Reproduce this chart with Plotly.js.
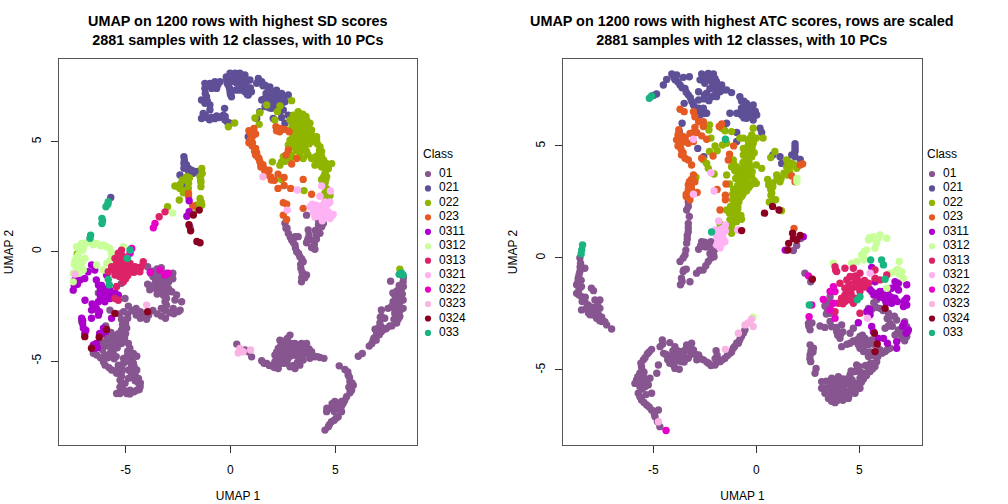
<!DOCTYPE html>
<html>
<head>
<meta charset="utf-8">
<script src="https://cdn.plot.ly/plotly-3.0.1.min.js"></script>
<style>html,body{margin:0;padding:0;background:#fff}</style>
</head>
<body>
<div id="chart" style="width:1008px;height:504px"></div>
<script>
const classes=["01","021","022","023","0311","0312","0313","0321","0322","0323","0324","033"];
const colors=["#87558F","#5F4F97","#8FB500","#E45A22","#AB00CC","#C9FF99","#DD2367","#FFB3F5","#E600C8","#FAB3E3","#8B0021","#1AB482"];
const titleLeft="UMAP on 1200 rows with highest SD scores<br>2881 samples with 12 classes, with 10 PCs";
const titleRight="UMAP on 1200 rows with highest ATC scores, rows are scaled<br>2881 samples with 12 classes, with 10 PCs";

const sd_01=[[-3.95,-0.7],[-3.7,-0.9],[-3.5,-0.8],[-3.3,-0.75],[-3.1,-1.0],[-3.4,-1.2],[-3.15,-1.3],[-3.7,-1.15],[-3.95,-1.5],[-3.85,-1.75],[-3.6,-1.45],[-3.4,-1.6],[-3.2,-1.7],[-3.5,-1.95],[-3.2,-2.0],[-2.95,-1.7],[-2.95,-1.4],[-2.75,-1.25],[-2.75,-1.0],[-2.8,-1.84],[-2.57,-1.99],[-2.65,-2.22],[-2.33,-2.3],[-2.4,-2.68],[-2.73,-2.6],[-3.05,-2.45],[-3.12,-2.3],
[-3.8,-1.0],[-3.6,-1.2],[-3.3,-1.0],[-3.1,-1.5],[-3.3,-1.45],[-3.55,-1.7],[-3.7,-1.6],[-3.05,-1.9],[-2.9,-1.15],[-3.5,-1.05],[-3.25,-1.85],[-3.05,-2.15],
[-5.3,-2.85],[-5.1,-2.75],[-4.9,-2.85],[-4.7,-2.7],[-4.5,-2.9],[-4.3,-2.75],[-4.1,-2.85],[-3.9,-2.9],[-3.7,-2.7],[-3.5,-2.85],[-3.3,-2.95],[-3.1,-2.7],[-2.9,-2.8],[-2.7,-2.85],[-2.5,-2.75],[-4.9,-3.05],[-4.5,-2.6],[-4.3,-3.05],[-4.0,-3.1],[-5.2,-3.1],[-3.3,-2.6],[-3.1,-3.05],[-4.87,-2.5],[-5.03,-2.15],[-5.75,-2.68],
[-5.15,-3.35],[-4.95,-3.5],[-5.2,-3.6],[-5.0,-3.75],[-5.7,-3.7],[-5.5,-3.85],[-5.9,-4.0],[-6.3,-4.3],[-6.1,-4.5],[-5.9,-4.3],[-5.7,-4.2],[-5.5,-4.1],[-5.3,-4.0],[-5.2,-3.9],[-5.8,-4.7],[-5.6,-4.6],[-5.4,-4.4],[-5.55,-4.9],[-6.06,-5.03],[-6.38,-4.73],[-6.54,-4.65],[-5.98,-5.19],[-5.45,-4.8],[-4.87,-4.2],[-4.8,-4.42],[-4.63,-4.65],[-4.47,-4.78],[-4.87,-4.88],[-5.1,-4.88],[-4.71,-4.96],[-4.71,-5.26],[-4.47,-5.41],[-4.87,-5.41],[-5.35,-5.19],[-5.67,-5.41],[-5.43,-5.56],[-5.19,-5.49],[-5.27,-5.87],[-5.19,-6.17],[-5.27,-6.48],[-4.95,-6.48],[-4.79,-6.33],[-4.47,-6.33],[-4.31,-6.17],[-4.39,-5.79],[-4.55,-5.64],[-4.87,-5.79],[-5.03,-6.02],[-5.43,-6.48],[-4.63,-5.1],[-4.55,-5.9],[-4.39,-6.0],[-5.1,-5.1],[-5.27,-6.2],
[-4.75,-5.1],[-4.6,-5.25],[-4.75,-5.5],[-4.6,-5.55],[-5.2,-5.3],[-5.35,-5.35],[-5.2,-5.7],[-5.2,-6.0],[-5.2,-6.35],[-5.05,-6.35],[-4.8,-6.5],[-4.6,-6.4],[-4.35,-6.3],[-4.3,-6.0],[-4.45,-5.85],[-4.65,-5.75],[-5.5,-5.45],[-5.8,-5.3],[-5.85,-4.85],[-6.2,-4.85],[-6.0,-4.75],[-5.7,-4.45],[-5.45,-4.2],[-5.55,-4.35],[-5.2,-4.2],[-4.9,-4.55],[-4.75,-4.75],[-4.9,-4.7],[-4.95,-5.0],[-5.05,-3.95],[-5.0,-3.3],[-5.35,-3.75],[-5.6,-3.95],[-5.8,-3.85],[-6.05,-4.2],[-6.2,-4.15],
[-6.38,-2.68],[-7.1,-3.2],[-6.3,-1.9],[-5.2,-1.46],[-6.5,-2.45],[-5.95,-3.4],
[2.6,1.28],[2.76,0.82],[2.92,0.52],[3.08,0.29],[3.16,-0.02],[3.31,-0.25],[3.47,-0.47],[3.36,-0.78],[3.47,-1.08],[3.63,-1.08],[3.39,-1.39],[3.08,0.67],[3.23,0.67],[2.7,1.05],[3.71,0.97],[3.71,0.59],[3.63,0.39],[3.95,0.51],[4.11,0.74],[4.27,0.82],[4.03,0.09],[3.87,0.18],[4.35,1.12],[3.63,1.65],[4.19,1.43],[4.43,1.27],[4.83,1.65],
[2.65,1.05],[2.85,0.65],[3.0,0.4],[3.1,0.15],[3.25,-0.1],[3.4,-0.35],[3.35,-0.6],[3.42,-0.95],[3.4,-1.2],[3.55,-1.2],[3.75,0.75],[3.68,0.5],[4.0,0.3],[4.1,0.55],[4.05,0.95],[4.2,1.0],[4.2,1.2],[4.3,1.45],[4.15,0.8],[3.95,0.15],
[0.3,-4.23],[0.85,-4.58],[1.01,-4.81],[0.69,-4.5],[1.49,-4.99],[1.73,-5.11],[1.97,-5.23],[2.28,-5.34],[2.12,-5.03],[2.12,-4.73],[2.28,-4.43],[2.36,-4.05],[2.84,-3.82],[2.71,-3.97],[2.52,-4.27],[2.6,-4.58],[2.52,-4.88],[2.76,-4.88],[2.84,-5.26],[3.08,-5.34],[3.31,-5.19],[3.47,-4.96],[3.23,-4.81],[3.0,-4.66],[3.08,-4.2],[3.31,-4.43],[3.63,-4.2],[3.63,-4.58],[3.87,-4.58],[4.03,-4.81],[4.27,-4.84],[4.46,-4.88],[3.79,-4.88],[3.39,-4.2],[2.76,-4.35],[2.36,-5.11],[2.9,-4.5],[2.4,-4.7],[3.45,-4.7],[2.05,-5.2],
[2.5,-4.1],[2.3,-4.6],[2.4,-4.3],[2.7,-4.2],[2.9,-4.2],[2.9,-4.35],[3.15,-4.35],[3.15,-4.55],[2.95,-4.75],[2.75,-4.65],[2.6,-4.8],[2.4,-5.0],[2.2,-4.9],[2.55,-5.1],[2.7,-5.1],[3.0,-5.2],[3.2,-5.05],[3.4,-4.8],[3.5,-4.5],[3.5,-4.3],[3.75,-4.45],[3.75,-4.7],[1.6,-5.1],[1.85,-5.2],[2.1,-5.3],[2.2,-5.15],[3.9,-4.7],[4.15,-4.8],[2.2,-4.6],[2.45,-4.45],[3.25,-4.65],
[5.19,-5.22],[5.46,-5.39],[5.62,-5.65],[5.7,-5.95],[5.86,-6.1],[5.78,-6.33],[5.54,-6.63],[5.38,-6.93],[5.14,-7.16],[4.98,-6.85],[4.82,-7.16],[4.59,-7.31],[5.14,-7.54],[4.82,-7.77],[4.67,-8.0],[4.51,-8.15],[5.3,-7.31],[5.3,-6.85],
[5.6,-5.5],[5.68,-5.75],[5.8,-6.0],[5.65,-6.2],[5.7,-6.45],[5.45,-6.8],[5.3,-7.05],[5.15,-6.95],[5.0,-7.05],[4.95,-7.3],[5.25,-7.15],[5.05,-7.6],[4.95,-7.7],[4.72,-7.9],[4.85,-6.95],[4.6,-7.15],
[6.1,-4.78],[6.29,-4.66],[6.62,-4.32],[6.81,-4.05],[6.97,-3.82],[7.2,-3.67],[7.44,-3.52],[7.93,-3.27],[7.13,-3.27],[7.2,-2.97],[7.2,-2.67],[7.36,-3.05],[7.52,-2.6],[7.76,-2.3],[7.84,-2.0],[8.08,-2.0],[8.24,-2.22],[8.24,-2.6],[8.08,-2.97],[8.0,-2.52],[7.84,-2.83],[8.24,-1.39],[8.16,-1.7],[7.64,-1.36],[7.7,-3.4],[6.9,-3.55],[7.95,-2.2],[-1.93,1.1],
[7.7,-2.5],[7.9,-2.3],[8.1,-2.3],[8.1,-2.7],[7.95,-2.8],[7.8,-3.1],[8.0,-3.1],[7.6,-3.4],[7.35,-3.55],[7.1,-3.8],[6.85,-3.95],[6.95,-4.05],[6.75,-4.2],[7.2,-3.45],[7.05,-3.5],[6.95,-3.6],[7.15,-3.0],[7.8,-2.6],[7.75,-1.9],[8.05,-1.55],[8.2,-1.95],[7.95,-1.8],[8.25,-1.2],[8.25,-1.6]];
const sd_021=[[-1.22,7.66],[-1.22,7.43],[-0.98,7.66],[-0.74,7.73],[-0.5,7.73],[-0.66,7.43],[-0.9,7.43],[-1.14,7.05],[-1.38,6.9],[-1.22,6.75],[-0.98,6.67],[-0.98,6.45],[-0.28,6.52],[-0.18,7.81],[-0.02,8.12],[0.22,8.12],[0.45,8.12],[0.69,8.04],[-0.1,7.58],[-0.02,7.28],[0.05,7.05],[0.3,7.66],[0.53,7.58],[0.69,7.28],[0.85,7.13],[1.0,7.28],[0.77,7.81],[0.93,7.81],[1.33,7.88],[1.49,7.73],[1.25,7.66],[1.65,7.58],[1.88,7.5],[2.2,7.35],[2.44,7.2],[2.76,7.13],[1.88,7.13],[2.12,6.97],[2.36,6.97],[1.49,6.9],[1.73,6.82],[1.96,6.75],[2.28,6.75],[2.6,6.82],[1.65,6.6],[1.96,6.52],[2.36,6.37],[2.52,6.45],[2.76,6.21],[1.4,6.37],[1.25,6.06],[2.04,6.06],[2.44,6.1],[2.6,5.84],[0.85,5.23],[3.51,6.14],[0.15,7.85],[0.5,7.9],[0.25,7.35],[0.45,7.35],[1.7,7.2],[2.0,7.3],[2.25,7.1],
[-1.1,7.55],[-0.85,7.6],[-0.6,7.6],[-1.2,7.2],[-1.1,6.85],[-0.2,7.95],[0.0,7.95],[0.1,7.75],[0.3,7.95],[-0.05,7.45],[-0.15,7.65],[0.0,7.15],[0.45,7.75],[0.6,7.8],[0.75,7.6],[0.6,7.45],[0.8,7.15],[0.95,7.45],[1.4,7.75],[1.55,7.55],[1.8,7.35],[2.0,7.15],[2.35,7.15],[2.5,6.95],[2.15,6.8],[1.85,6.95],[1.6,6.95],[2.45,6.75],[2.05,6.65],[2.3,6.55],[1.85,6.55],[2.55,7.05],
[-1.3,6.29],[-1.38,6.06],[-1.14,6.1],[-0.9,6.1],[-0.66,6.17],[-0.42,6.14],[-0.26,5.99],[-0.02,5.84],[-0.34,6.21],[-1.3,6.15],[-1.2,6.2],[-1.0,6.0],[-0.75,6.05],[-0.55,6.1],[-0.25,6.15],[-0.15,5.9],
[-2.22,4.31],[-2.22,4.01],[-2.22,3.79],[-2.01,3.79],[-1.77,3.56],[-1.61,3.64],[-2.41,3.48],[-2.25,3.07],[-2.1,3.95],[-5.71,2.46],[-2.2,4.15],[-2.15,3.9],[-2.0,3.65],[-1.85,3.7]];
const sd_022=[[2.92,6.87],[2.36,6.63],[2.24,6.37],[2.12,5.99],[3.23,6.37],[3.39,6.14],[3.0,6.21],[2.84,5.99],[3.08,5.91],[3.31,5.91],[3.63,5.99],[3.79,5.84],[3.87,5.53],[3.63,5.6],[3.31,5.6],[3.08,5.6],[2.84,5.53],[3.0,5.3],[3.23,5.3],[3.55,5.3],[3.87,5.3],[4.11,5.23],[4.11,5.07],[3.87,5.0],[3.63,5.0],[3.31,5.0],[2.84,5.07],[2.76,4.85],[3.23,4.74],[3.55,4.77],[4.27,4.77],[4.35,4.55],[3.31,4.47],[3.63,4.55],[3.47,4.23],[2.92,4.39],[2.84,4.23],[2.52,4.31],[2.44,4.08],[2.36,3.93],[3.87,4.23],[4.11,4.16],[4.35,4.31],[4.59,4.0],[4.83,4.0],[4.03,3.93],[4.35,3.85],[4.67,3.77],[4.51,3.55],[4.59,3.4],[4.35,3.28],[4.51,3.1],[4.67,2.72],[4.51,2.49],[2.44,3.28],[2.0,4.08],[3.51,2.77],[1.17,6.08],[1.37,5.79],[1.4,6.32],[1.73,6.67],[0.2,5.85],[-0.1,5.68],[4.35,1.75],
[2.95,6.0],[3.15,6.1],[3.45,5.8],[3.5,5.5],[3.15,5.75],[2.95,5.75],[2.95,5.45],[3.2,5.45],[3.4,5.2],[3.7,5.45],[4.0,5.15],[3.75,5.15],[3.45,5.0],[3.15,5.15],[2.95,5.15],[2.9,4.95],[3.1,4.95],[3.4,4.75],[3.45,4.6],[3.75,4.9],[4.15,4.9],[4.25,4.6],[4.2,4.4],[3.15,4.6],[3.0,4.75],[3.7,4.4],[2.65,4.25],[2.75,4.45],[2.6,4.1],[4.05,4.3],[4.25,4.15],[4.45,4.15],[4.5,3.85],[4.7,3.95],[4.2,4.0],[4.55,3.7],[4.45,3.4],[4.55,3.25],[4.4,3.2],[4.6,2.85],[4.75,2.55],[4.5,2.65],[4.55,2.3],[3.6,6.15],[3.45,6.25],
[-1.37,3.78],[-1.45,3.4],[-1.41,2.95],[-2.08,3.4],[-2.3,3.25],[-2.65,2.98],[-2.41,2.87],[-2.01,2.87],[-2.25,2.67],[-2.44,2.34],[-1.45,2.41],[-1.61,2.11],[-1.37,2.11],[-3.0,2.03],[-1.77,1.7],[-1.41,3.15],[-2.15,3.25],[-2.0,3.1],[-2.4,3.05],[-2.5,2.95],[-2.15,2.75],[-1.95,3.35],[-1.42,3.25],[-1.35,3.55],[-1.4,2.25],[-1.6,2.0],[-7.31,-0.12],[8.08,-0.81]];
const sd_023=[[0.88,5.5],[1.12,5.6],[1.04,5.23],[1.2,5.35],[0.88,4.95],[1.04,4.8],[1.2,4.69],[1.2,4.39],[1.36,4.23],[1.44,4.0],[1.6,3.77],[1.84,3.7],[1.92,3.39],[2.1,3.24],[2.27,3.52],[2.56,3.37],[3.47,3.28],[2.27,2.87],[2.56,3.0],[2.87,2.87],[3.87,2.6],[2.52,2.22],[2.68,2.15],[3.47,1.96],[2.52,1.65],[2.68,1.45],[2.17,5.68],[2.36,5.6],[2.6,5.56],[2.8,5.45],[2.76,4.62],[2.65,4.39],[3.16,4.23],[2.92,3.98],[-2.0,2.64],[-2.0,2.49],[-1.8,2.07],[0.95,5.4],[0.95,5.1],[1.05,4.95],[1.15,4.55],[1.25,4.5],[1.3,4.3],[1.4,4.1],[1.45,3.85],[1.55,3.95],[1.65,3.65],[1.75,3.5],[1.95,3.25],[2.35,5.45],[2.2,5.5]];
const sd_0311=[[-6.63,-0.62],[-6.47,-0.85],[-6.79,-0.93],[-7.42,-1.31],[-7.18,-1.31],[-7.5,-1.77],[-6.95,-1.24],[-6.3,-1.53],[-6.06,-1.69],[-5.75,-1.77],[-6.22,-1.92],[-5.99,-2.07],[-5.75,-2.15],[-5.35,-2.0],[-5.99,-2.3],[-6.94,-2.23],[-6.47,-2.45],[-6.63,-2.68],[-6.3,-2.91],[-6.63,-3.05],[-7.1,-3.05],[-7.02,-3.5],[-6.95,-3.74],[-6.24,-3.74],[-6.06,-3.5],[-5.67,-3.05],[-6.54,-4.27],[-6.47,-4.42],[-5.91,-1.08],[-5.43,-0.93],[-5.9,-1.85],[-6.15,-2.2],[-1.97,2.31],[-1.97,1.81],[-2.08,1.6],[-6.2,-1.7],[-6.0,-1.85],[-6.05,-2.05],[-5.85,-2.0],[-5.6,-1.95],[-5.5,-1.9],[-6.2,-2.1],[-6.3,-2.3],[-6.6,-2.4],[-6.4,-2.6],[-6.25,-2.75],[-7.05,-3.3],[-7.05,-3.15],[-6.9,-3.6],[-6.1,-3.75],[-5.95,-3.65],[-6.4,-4.2],[-6.35,-4.4],[-7.3,-1.5],[-7.45,-1.55],[-6.4,-1.3],[-6.15,-1.55]];
const sd_0312=[[-7.34,0.21],[-7.1,0.36],[-6.79,0.44],[-6.38,0.36],[-6.06,0.29],[-5.75,0.13],[-5.67,-0.09],[-7.18,0.06],[-7.26,-0.17],[-7.42,-0.4],[-7.1,-0.55],[-7.34,-0.78],[-7.02,-0.85],[-7.5,-1.0],[-6.38,-0.62],[-6.06,-0.85],[-5.75,-0.4],[-5.11,0.21],[-6.94,-0.32],[-7.5,-1.39],[-6.6,0.42],[-7.0,0.2],[-2.76,1.75],[-6.95,0.35],[-6.55,0.3],[-6.2,0.25],[-5.9,0.2],[-7.2,0.25],[-7.35,-0.3],[-7.2,-0.7],[-7.45,-0.6],[-7.25,-1.0],[-7.2,-0.45],[-7.05,0.05],[-5.65,-0.3],[-5.9,-0.55]];
const sd_0313=[[-5.35,-0.09],[-5.43,-0.55],[-5.67,-0.7],[-5.83,-0.93],[-5.27,-0.47],[-5.03,-0.4],[-4.79,-0.55],[-4.95,-0.78],[-5.27,-0.93],[-5.51,-1.08],[-5.11,-1.16],[-5.11,-1.39],[-4.55,-0.7],[-4.32,-0.93],[-4.16,-0.47],[-5.51,-0.32],[-4.71,-0.93],[-5.51,-2.15],[-5.35,-2.23],[-5.43,-1.6],[-5.2,0.05],[-5.2,-0.2],[-3.4,1.58],[-3.12,1.8],[-5.1,-0.25],[-4.95,-0.55],[-5.15,-0.7],[-5.35,-0.7],[-5.1,-0.9],[-4.85,-0.95],[-5.3,-1.15],[-4.6,-0.95],[-4.75,-0.75],[-4.4,-0.75],[-4.25,-0.7],[-5.55,-0.85],[-4.9,-1.1],[-5.0,-1.25]];
const sd_0321=[[3.19,2.8],[4.35,2.98],[4.77,2.75],[4.27,2.51],[4.67,2.18],[4.5,2.03],[4.19,2.03],[3.8,2.03],[4.03,1.88],[4.03,1.57],[4.38,1.8],[4.67,1.8],[4.9,1.68],[4.75,1.5],[4.38,1.39],[2.71,1.88],[4.2,1.75],[3.95,1.8],[4.1,2.1],[4.4,2.1],[4.55,1.95],[4.25,1.6],[4.6,1.6],[4.15,1.9],[4.5,2.25],[4.75,2.25],[3.9,2.15]];
const sd_0322=[[-4.71,0.13],[-4.79,-0.09],[-3.36,-0.85],[-3.12,-1.08],[-2.97,-1.0],[-3.83,-0.95],[-3.6,1.27],[-3.68,1.07]];
const sd_0323=[[0.45,-4.43],[0.61,-4.58],[0.37,-4.63],[0.96,-4.5],[-4.0,-2.45],[-7.42,-1.04],[1.55,3.4]];
const sd_0324=[[-6.26,-3.92],[-5.91,-3.56],[-6.95,-3.89],[-6.63,-4.42],[-3.95,-2.75],[-5.51,-2.83],[-1.49,1.88],[-1.77,1.66],[-1.98,1.21],[-1.9,0.94],[-1.6,0.45],[-1.45,0.39]];
const sd_033=[[-5.83,2.26],[-5.94,2.03],[-6.13,1.5],[-6.13,1.27],[-6.67,0.74],[-6.7,0.6],[-4.79,0.06],[-4.92,-0.32],[-5.83,-1.28],[-5.78,-1.53],[8.16,-0.98],[8.24,-1.08],[8.05,-1.05],[-5.85,2.15],[-6.1,1.4]];

const atc_01=[[-8.56,0.0],[-8.53,-0.24],[-8.32,-0.46],[-8.56,-0.61],[-8.64,-0.91],[-8.72,-1.2],[-8.48,-1.28],[-8.72,-1.58],[-8.48,-1.73],[-8.32,-1.95],[-8.48,-2.32],[-8.16,-2.1],[-8.0,-1.35],[-7.9,-1.46],[-7.83,-1.88],[-7.59,-1.88],[-7.59,-2.25],[-7.83,-2.32],[-8.07,-2.54],[-7.75,-2.69],[-7.5,-2.84],[-7.26,-2.99],[-7.02,-3.17],[-8.2,-2.3],
[-8.55,-0.4],[-8.6,-0.75],[-8.65,-1.05],[-8.6,-1.4],[-8.6,-1.65],[-8.45,-1.95],[-8.25,-2.25],[-8.0,-2.2],[-8.3,-1.75],[-7.7,-2.1],[-7.9,-2.55],[-7.65,-2.55],[-7.5,-2.65],[-7.35,-2.85],[-7.6,-2.8],[-8.5,-1.0],[-8.15,-2.45],[-7.75,-2.4],
[-3.3,2.51],[-3.38,2.14],[-3.3,1.54],[-3.3,1.17],[-3.38,0.66],[-3.46,0.13],[-3.7,-0.16],[-3.52,-0.54],[-3.63,-0.91],[-3.68,-1.2],[-3.22,-1.06],[-2.9,-0.68],[-2.58,-0.54],[-2.33,-0.16],[-2.08,0.21],[-2.65,0.73],[-2.5,0.5],[-2.8,0.39],[-2.2,0.73],[-2.41,0.5],[-3.25,1.85],[-3.3,2.3],[-3.3,1.35],[-3.35,1.0],[-3.42,0.35],[-3.55,0.0],[-3.35,0.85],[-3.55,-0.6],[-3.6,-1.05],[-3.4,-0.5],[-2.75,-0.55],[-2.45,-0.35],[-2.2,0.0],[-2.0,0.4],[-2.7,0.55],[-2.5,0.7],[-2.3,0.55],[-2.25,0.2],[-2.05,0.05],[-2.15,0.35],
[-4.56,-3.66],[-4.67,-3.96],[-4.5,-4.26],[-4.2,-3.78],[-5.08,-4.08],[-5.29,-4.29],[-5.48,-4.55],[-5.57,-4.85],[-5.65,-5.15],[-5.81,-5.45],[-5.89,-5.6],[-5.48,-5.3],[-5.16,-5.37],[-5.24,-5.67],[-5.65,-5.75],[-5.73,-6.04],[-5.08,-6.04],[-5.57,-6.34],[-5.32,-6.56],[-5.08,-6.79],[-4.75,-6.79],[-4.92,-7.08],[-4.68,-7.53],[-4.83,-5.15],[-4.75,-4.78],[-5.5,-5.7],[-5.35,-6.1],
[-5.4,-4.45],[-5.2,-4.2],[-5.55,-5.0],[-5.6,-5.3],[-5.75,-5.3],[-5.7,-5.55],[-5.5,-5.5],[-5.35,-5.45],[-5.55,-5.85],[-5.65,-6.2],[-5.45,-6.45],[-5.2,-6.65],[-4.95,-6.95],[-4.8,-7.3],[-5.4,-5.75],[-5.45,-5.1],[-5.6,-4.7],
[-4.11,-4.63],[-4.35,-4.33],[-3.95,-4.93],[-3.74,-4.97],[-3.95,-3.96],[-3.87,-4.33],[-3.63,-4.18],[-3.38,-3.88],[-3.14,-3.81],[-3.05,-4.11],[-3.3,-4.48],[-3.63,-4.63],[-2.89,-4.55],[-2.8,-4.33],[-2.56,-4.55],[-2.32,-4.7],[-2.0,-4.78],[-1.76,-4.63],[-1.52,-4.48],[-1.95,-4.14],[-1.28,-4.26],[-1.12,-4.03],[-0.87,-3.81],[-0.72,-3.51],[-0.55,-3.21],
[-4.55,-3.85],[-4.4,-4.3],[-4.3,-4.55],[-4.2,-4.7],[-4.05,-4.35],[-4.05,-4.15],[-3.85,-4.6],[-3.8,-4.15],[-3.7,-4.35],[-3.5,-4.35],[-3.45,-4.1],[-3.3,-4.1],[-3.15,-4.3],[-3.2,-3.95],[-2.95,-4.3],[-2.7,-4.5],[-2.4,-4.65],[-2.2,-4.8],[-1.9,-4.65],[-1.65,-4.55],[-1.4,-4.35],[-1.2,-4.2],[-1.05,-3.95],[-0.95,-3.8],[-0.8,-3.65],[-0.62,-3.35],[-3.95,-4.5],[-4.0,-4.8],[-3.5,-4.65],[-1.9,-4.35],[-2.0,-4.5],
[2.15,0.87],[1.96,0.55],[1.8,0.33],[2.36,-0.68],[2.64,-1.06],
[3.58,-1.73],[3.33,-2.14],[3.58,-2.25],[3.58,-2.47],[2.53,-2.92],[2.61,-3.21],[3.09,-3.04],[3.33,-3.1],[3.66,-3.07],[4.14,-2.99],[3.9,-3.29],[4.06,-3.59],[4.55,-3.36],[4.71,-3.14],[2.61,-3.88],[2.77,-4.03],[2.61,-4.33],[2.64,-4.63],[2.9,-4.93],[2.85,-5.15],[2.55,-3.05],[2.7,-2.9],[2.65,-4.15],[2.75,-4.2],[2.6,-4.5],[3.9,-3.1],[3.95,-3.45],[4.1,-3.4],[4.2,-3.3],[3.5,-2.0],[3.45,-2.3],[3.4,-2.5],
[4.14,-3.96],[4.55,-3.81],[4.79,-3.73],[5.03,-4.03],[5.2,-4.18],[5.44,-4.4],[5.84,-4.26],[6.25,-4.18],[6.49,-4.03],[5.84,-4.63],[5.76,-4.85],[5.52,-5.07],[5.2,-5.15],[4.87,-4.78],[4.79,-5.07],[5.03,-5.37],[4.55,-5.22],[4.3,-5.52],[3.98,-5.3],[3.66,-5.37],[3.17,-5.52],[3.17,-5.82],[3.33,-6.04],[3.5,-6.27],[3.82,-6.46],[4.14,-6.19],[4.47,-6.27],[4.79,-6.04],[5.03,-5.82],[4.63,-5.67],[3.9,-5.74],[3.66,-5.97],[4.22,-5.82],[3.98,-6.04],[4.4,-5.95],[3.6,-5.6],[5.3,-4.8],
[3.4,-5.5],[3.35,-5.8],[3.55,-5.8],[3.5,-6.05],[3.7,-6.2],[3.65,-6.4],[3.95,-6.35],[4.0,-6.2],[4.3,-6.1],[4.3,-5.95],[4.6,-6.0],[4.6,-5.8],[4.9,-5.85],[4.85,-5.6],[4.65,-5.45],[4.45,-5.6],[4.15,-5.6],[3.95,-5.55],[3.75,-5.8],[4.05,-5.85],[3.75,-5.5],[4.2,-5.4],[5.1,-5.55],[5.2,-5.4],[5.35,-5.25],[5.45,-4.95],[5.65,-4.95],[5.7,-4.7],[5.55,-4.7],[5.05,-5.1],[5.0,-4.85],[4.6,-5.05],[4.4,-5.4],[3.85,-6.1],[4.2,-6.35],[4.5,-6.15],
[4.4,-3.85],[4.7,-3.7],[4.9,-3.65],[5.1,-3.8],[5.2,-3.95],[5.35,-4.2],[5.55,-4.2],[5.65,-4.35],[5.9,-4.4],[6.1,-4.25],[6.0,-4.1],[6.35,-4.1],[5.3,-3.7],[5.15,-3.45],[5.7,-3.85],
[5.84,-1.87],[5.44,-2.25],[6.0,-2.25],[6.41,-2.47],[6.81,-2.77],[6.49,-2.92],[6.25,-3.14],[7.3,-3.07],[7.3,-3.51],[7.06,-3.59],[6.73,-3.44],[6.9,-3.21],[5.6,-3.66],[5.28,-3.59],[5.44,-3.88],[5.03,-3.51],[4.95,-3.88],[3.58,-2.84],[5.7,-2.0],[5.6,-2.3],[5.8,-2.2],[6.15,-2.35],[6.35,-2.7],[6.5,-2.6],[6.7,-2.6],[6.6,-3.05],[6.4,-3.05],[7.2,-2.85],[7.1,-3.2],[7.35,-3.3],[7.2,-3.7],[7.0,-3.35],[6.85,-3.35]];
const atc_021=[[-4.84,7.32],[-4.51,7.72],[-4.35,7.97],[-4.1,8.21],[-3.86,8.17],[-3.94,7.95],[-3.7,7.72],[-3.46,7.57],[-3.3,7.28],[-3.13,6.98],[-3.05,6.83],[-2.8,6.68],[-2.57,6.68],[-2.41,6.46],[-2.73,6.38],[-3.54,8.06],[-3.25,8.09],[-2.65,8.21],[-2.33,8.24],[-2.08,8.21],[-2.73,7.95],[-2.33,7.95],[-1.93,7.87],[-1.68,7.72],[-1.44,7.5],[-1.2,7.38],[-1.76,7.42],[-2.08,7.65],[-2.41,7.35],[-2.16,7.2],[-1.93,7.2],[-2.8,7.42],[-2.51,7.27],[-2.8,7.05],[-2.3,7.02],[-3.5,6.9],[-0.8,7.2],[-0.72,7.0],[-0.47,6.9],[-0.15,6.83],[-0.72,6.68],[-0.47,6.6],[-0.23,6.53],[0.02,6.38],[-0.72,6.38],[-0.95,6.46],[-1.28,6.46],[-0.47,6.23],[-0.15,6.16],[-1.44,6.01],[-1.6,5.79],[0.18,5.79],[0.26,5.6],[-0.95,5.6],[-0.95,5.2],[-3.6,6.01],[-3.74,5.64],[-2.84,4.89],[-2.55,4.52],[0.8,4.6],[1.15,4.52],[1.23,4.22],[1.88,4.97],[1.88,4.75],[1.88,4.52],[2.13,4.4],[1.72,4.6],[-5.0,7.25],[-0.5,6.4],[-2.55,6.45],
[-3.9,8.1],[-4.0,8.05],[-3.8,7.85],[-3.6,7.6],[-3.4,7.4],[-3.2,7.15],[-2.95,6.7],[-2.7,6.55],[-2.55,6.55],[-2.5,8.1],[-2.55,8.0],[-2.2,8.05],[-2.0,8.0],[-2.15,7.85],[-2.5,7.8],[-1.85,7.7],[-1.6,7.5],[-1.95,7.5],[-2.25,7.55],[-2.55,7.1],[-2.0,7.3],[-0.6,7.0],[-0.6,6.8],[-0.35,6.7],[-0.2,6.7],[-0.6,6.5],[-0.35,6.4],[-0.6,6.25],[-0.25,6.3],[-0.05,6.55],[1.88,5.1],[1.88,4.85]];
const atc_022=[[-2.27,5.94],[-2.3,5.71],[-2.2,5.35],[-1.68,5.79],[-1.52,5.68],[-1.2,5.64],[-0.8,5.35],[-0.63,5.35],[-1.44,5.12],[-1.64,5.04],[-2.0,5.0],[-1.9,4.79],[-2.27,4.75],[-2.56,4.37],[-2.41,4.22],[-2.33,4.0],[-2.05,3.75],[-2.93,3.6],[-0.15,5.79],[-0.22,5.49],[0.0,5.35],[0.33,5.35],[-0.38,5.2],[-0.15,5.12],[-0.63,4.89],[-0.3,4.82],[-0.63,4.6],[-0.22,4.52],[-0.46,4.37],[-1.12,4.37],[-1.2,4.07],[-0.96,4.07],[-0.8,3.93],[-0.56,4.07],[-0.3,4.07],[0.0,4.15],[0.26,4.0],[-1.44,3.7],[-0.85,3.7],[-0.56,3.7],[-0.23,3.62],[0.0,3.33],[-0.46,3.33],[-1.3,3.3],[-1.1,3.07],[-0.8,3.07],[-0.47,3.0],[-1.02,2.74],[-0.8,2.66],[-0.63,2.88],[-1.02,2.44],[-1.44,2.14],[-1.12,2.0],[-0.88,1.92],[-0.72,1.73],[-1.28,1.7],[-0.96,1.62],[-1.76,1.52],[-1.2,1.32],[-1.2,1.1],[0.7,4.48],[0.9,4.75],[1.47,4.37],[1.72,4.22],[1.47,4.07],[1.96,4.0],[1.34,3.78],[1.63,3.78],[0.99,3.7],[0.55,3.5],[0.6,3.26],[1.15,3.4],[0.8,3.18],[0.71,2.8],[0.94,2.6],[0.63,2.5],[1.22,2.11],[-0.9,2.3],[-1.05,1.85],[-0.6,4.3],
[-0.3,5.35],[-0.1,5.3],[-0.4,5.0],[-0.45,4.75],[-0.2,4.95],[-0.1,4.7],[-0.45,4.55],[-0.35,4.25],[-0.65,4.25],[-0.7,3.95],[-0.95,3.85],[-0.7,3.8],[-0.55,3.9],[-0.4,3.9],[-0.4,3.6],[-0.2,3.85],[-0.1,3.45],[-0.7,3.55],[-1.0,3.55],[-0.8,3.45],[-0.6,3.2],[-0.9,3.25],[-0.35,3.15],[-0.2,3.3],[-0.9,2.9],[-1.15,2.85],[-0.7,2.75],[-1.15,2.6],[-0.85,2.5],[-0.9,2.2],[-1.1,2.2],[-1.25,2.3],[-1.3,2.0],[-0.95,2.05],[-1.05,1.75],[-1.15,1.55],[-1.25,1.45],[-0.75,1.9],[-1.1,4.2],[-1.05,3.9],[1.6,4.25],[1.85,4.15],[1.6,3.95],[1.5,3.7],[1.2,3.55],[1.0,3.5],[0.8,3.35],[0.7,3.05],[0.75,2.9]];
const atc_023=[[-3.7,6.64],[-3.5,6.53],[-3.05,6.53],[-2.98,6.3],[-2.8,6.08],[-2.57,6.08],[-1.68,5.98],[-1.8,5.87],[-2.98,5.83],[-2.57,5.87],[-3.05,5.6],[-3.22,5.56],[-2.89,5.6],[-2.65,5.45],[-2.41,5.3],[-3.76,5.72],[-3.8,5.49],[-3.56,5.42],[-3.87,5.27],[-3.63,5.12],[-3.3,5.12],[-3.05,5.2],[-3.8,5.0],[-3.63,4.6],[-3.46,4.45],[-3.3,4.37],[-3.14,4.15],[-2.65,4.45],[-2.1,4.55],[-1.1,5.0],[-1.3,4.63],[-1.36,4.37],[-3.05,3.7],[-3.13,3.33],[-3.3,3.26],[-2.98,3.4],[-3.14,3.04],[-3.4,2.74],[-3.22,2.6],[-2.87,2.92],[-1.9,3.06],[-1.47,3.3],[-1.5,2.8],[-1.5,2.6],[-1.76,2.14],[2.13,4.15],[2.25,4.2],[1.72,3.66],[1.88,3.4],[1.83,1.32],[-3.75,5.4],[-3.7,5.2],[-3.55,5.25],[-3.45,5.35],[-3.65,4.85],[-3.55,4.7],[-3.15,3.15],[-3.15,3.5],[-3.3,3.05],[-3.2,2.8],[-3.4,2.85],[-3.25,3.4]];
const atc_0311=[[2.28,0.95],[1.4,0.35],[5.6,-0.42],[5.76,-1.06],[5.6,-1.5],[5.84,-1.58],[6.17,-1.5],[6.41,-1.65],[6.73,-1.06],[6.9,-1.13],[6.57,-1.35],[7.3,-1.2],[6.9,-1.43],[6.25,-1.87],[6.57,-2.02],[6.73,-1.8],[7.3,-1.8],[7.3,-2.1],[7.14,-2.17],[5.36,-2.4],[5.52,-2.54],[5.6,-3.06],[5.68,-3.29],[4.95,-2.89],[7.17,-2.92],[7.38,-3.21],[7.27,-3.36],[6.17,-3.59],[6.36,-3.81],[6.81,-3.74],[6.81,-4.03],[5.92,-3.59],[6.0,-1.75],[5.5,-1.4],[6.0,-1.5],[6.15,-1.75],[6.35,-1.5],[6.45,-1.85],[6.3,-2.0],[6.55,-1.75],[6.8,-1.3],[7.2,-1.9],[7.2,-2.0],[6.85,-1.95],[5.5,-2.3],[5.7,-1.65],[7.1,-3.05]];
const atc_0312=[[1.97,3.55],[1.97,3.4],[-0.16,-2.65],[5.44,0.8],[5.68,0.95],[6.0,1.03],[6.33,0.88],[5.84,0.65],[5.36,0.36],[5.11,0.13],[5.2,-0.09],[3.74,-0.24],[4.63,-0.24],[4.87,-0.16],[6.93,-0.16],[6.73,-0.61],[7.06,-0.61],[7.14,-0.91],[6.49,-0.68],[6.33,-1.35],[5.76,0.43],[5.5,0.9],[5.75,0.85],[5.25,0.3],[6.85,-0.5],[6.95,-0.75],[5.95,0.9],[5.2,0.1]];
const atc_0313=[[3.82,-0.39],[3.9,-0.61],[4.3,-0.46],[4.71,-0.46],[4.55,-0.83],[5.03,-0.68],[4.06,-1.13],[4.39,-0.98],[4.79,-1.06],[5.11,-1.13],[5.44,-1.13],[5.76,-0.54],[5.76,-0.91],[6.0,-0.98],[6.33,-0.76],[4.63,-1.35],[5.03,-1.5],[4.3,-1.35],[4.14,-1.8],[4.47,-1.87],[3.98,-2.02],[4.71,-2.02],[4.3,-1.65],[3.82,-2.4],[5.03,-2.47],[4.8,-0.8],[4.6,-1.6],[4.5,-1.15],[4.85,-1.3],[4.9,-0.95],[5.25,-1.0],[5.0,-1.2],[5.25,-1.3],[4.5,-1.5],[4.3,-1.95],[4.2,-2.05],[4.8,-1.8],[3.85,-0.55]];
const atc_0321=[[-2.05,2.99],[-1.83,1.65],[-1.5,1.47],[-2.0,1.25],[-1.76,1.25],[-1.6,1.1],[-1.92,0.95],[-1.76,0.8],[-1.52,0.72],[-1.92,0.58],[-1.76,0.44],[-0.9,1.25],[-3.05,5.3],[-2.2,3.8],[-3.05,2.84],[5.52,-0.68],[5.39,-2.69],[-1.65,0.95],[-1.65,1.3],[-1.85,1.15],[-1.7,0.6],[-1.6,0.85],[-1.85,0.75],[-1.75,1.05],[-1.5,1.2]];
const atc_0322=[[3.74,-1.28],[3.58,-1.5],[3.25,-1.85],[3.82,-1.5],[2.69,-2.1],[2.56,-2.62],[3.74,-2.02],[3.82,-2.69],[3.58,-2.32],[2.53,-0.8],[-4.38,-7.7]];
const atc_0323=[[-4.75,-7.31],[-1.5,-4.08],[-0.87,-3.36],[-0.55,-2.99],[-0.23,-2.74],[-0.15,-3.06],[-0.4,-2.9]];
const atc_0324=[[0.79,2.3],[0.4,2.0],[1.1,2.14],[-0.71,1.22],[1.76,1.1],[1.8,0.87],[1.96,0.8],[2.13,1.0],[1.57,0.65],[1.53,0.35],[2.72,-0.95],[5.73,-3.36],[5.87,-3.84],[5.76,-4.18],[6.25,-2.25]];
const atc_033=[[-8.43,0.58],[-8.47,0.36],[-8.5,0.18],[-5.19,7.13],[-5.08,7.23],[-1.5,5.3],[-2.17,1.16],[6.08,-0.09],[6.17,-0.31],[5.55,-0.09],[6.25,-0.95],[5.03,-1.73],[4.9,-1.87],[2.57,-2.1]];

const sdSeries=[sd_01,sd_021,sd_022,sd_023,sd_0311,sd_0312,sd_0313,sd_0321,sd_0322,sd_0323,sd_0324,sd_033];
const atcSeries=[atc_01,atc_021,atc_022,atc_023,atc_0311,atc_0312,atc_0313,atc_0321,atc_0322,atc_0323,atc_0324,atc_033];

const W=1008,H=504,font="Liberation Sans, Arial, sans-serif";
const hd=(a,b)=>[a/W,b/W], vd=(top,bot)=>[1-bot/H,1-top/H];
const traces=[];
function addPanel(series,xa,ya){
  series.forEach((pts,i)=>traces.push({type:"scatter",mode:"markers",name:classes[i],xaxis:xa,yaxis:ya,showlegend:false,
    x:pts.map(p=>p[0]),y:pts.map(p=>p[1]),marker:{color:colors[i],size:7.4,line:{width:0}},hoverinfo:"name+x+y"}));
}
addPanel(sdSeries,"x","y");
addPanel(atcSeries,"x2","y2");
function addKey(xa,ya){
  traces.push({type:"scatter",mode:"markers",xaxis:xa,yaxis:ya,showlegend:false,hoverinfo:"skip",x:classes.map(()=>5),y:classes,
    marker:{color:colors,size:6.2,line:{width:0}},cliponaxis:false});
  traces.push({type:"scatter",mode:"text",xaxis:xa,yaxis:ya,showlegend:false,hoverinfo:"skip",x:classes.map(()=>16),y:classes,text:classes,
    textposition:"middle right",textfont:{family:font,size:12,color:"#000"},cliponaxis:false});
}
addKey("x3","y3");
addKey("x4","y4");
const mainAxis=(domain,range,title)=>({domain,range,showgrid:false,zeroline:false,showline:true,mirror:true,linecolor:"#555",linewidth:1,
  ticks:"outside",ticklen:7,tickcolor:"#333",tickwidth:1,tickvals:[-5,0,5],ticktext:["-5","0","5"],
  tickfont:{family:font,size:12,color:"#000"},title:{text:title,font:{family:font,size:12,color:"#000"}}});
const hidden=(o)=>Object.assign({visible:false,showgrid:false,zeroline:false},o);
const xa1=mainAxis(hd(59,417),[-8.18,8.9],"UMAP 1"), ya1=mainAxis(vd(59,445),[-8.83,8.77],"UMAP 2");
const xa2=mainAxis(hd(563,922),[-9.38,8.04],"UMAP 1"), ya2=mainAxis(vd(59,445),[-8.35,8.88],"UMAP 2");
[xa1,xa2].forEach(a=>{a.ticklabelstandoff=7;a.title.standoff=15;a.automargin=false;});
[ya1,ya2].forEach(a=>{a.tickangle=-90;a.ticklabelstandoff=5;a.title.standoff=14;a.automargin=false;});
const layout={width:W,height:H,paper_bgcolor:"#fff",plot_bgcolor:"#fff",margin:{l:0,r:0,t:0,b:0},showlegend:false,font:{family:font,color:"#000"},
  xaxis:xa1,yaxis:ya1,xaxis2:Object.assign(xa2,{anchor:"y2"}),yaxis2:Object.assign(ya2,{anchor:"x2"}),
  xaxis3:hidden({domain:hd(423,503),range:[0,80],anchor:"y3"}),
  yaxis3:hidden({domain:vd(166.8,340.2),type:"category",categoryorder:"array",categoryarray:classes,range:[11.5,-0.5],anchor:"x3"}),
  xaxis4:hidden({domain:hd(927,1007),range:[0,80],anchor:"y4"}),
  yaxis4:hidden({domain:vd(166.8,340.2),type:"category",categoryorder:"array",categoryarray:classes,range:[11.5,-0.5],anchor:"x4"}),
  annotations:[
    {xref:"paper",yref:"paper",x:238/W,y:1-30/H,text:titleLeft,showarrow:false,font:{family:font,size:14.4,color:"#000",weight:"bold"},xanchor:"center",yanchor:"middle"},
    {xref:"paper",yref:"paper",x:742/W,y:1-30/H,text:titleRight,showarrow:false,font:{family:font,size:14.4,color:"#000",weight:"bold"},xanchor:"center",yanchor:"middle"},
    {xref:"paper",yref:"paper",x:421/W,y:1-154/H,text:"Class",showarrow:false,font:{family:font,size:12,color:"#000"},xanchor:"left",yanchor:"middle"},
    {xref:"paper",yref:"paper",x:925/W,y:1-154/H,text:"Class",showarrow:false,font:{family:font,size:12,color:"#000"},xanchor:"left",yanchor:"middle"}
  ]};
Plotly.newPlot("chart",traces,layout,{staticPlot:true,displayModeBar:false});
</script>
</body>
</html>
